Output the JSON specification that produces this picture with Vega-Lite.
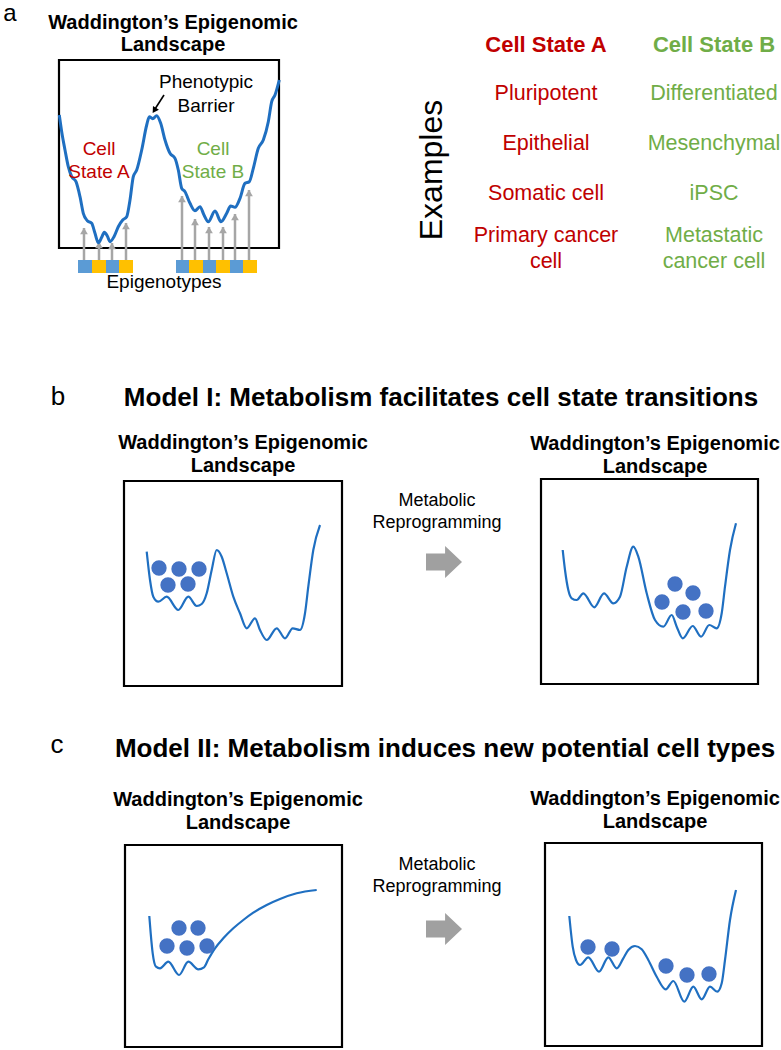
{
  "$schema": "https://vega.github.io/schema/vega-lite/v6.json",
  "width": 781,
  "height": 1050,
  "autosize": {"type": "fit", "contains": "padding"},
  "padding": 0,
  "background": "white",
  "config": {"view": {"stroke": null}, "font": "Liberation Sans"},
  "datasets": {
    "boxes": [
      {"x": 59, "x2": 279, "y": 60, "y2": 248},
      {"x": 124, "x2": 342, "y": 481, "y2": 686},
      {"x": 541, "x2": 758, "y": 479, "y2": 684},
      {"x": 125, "x2": 342, "y": 845, "y2": 1047},
      {"x": 545, "x2": 762, "y": 843, "y2": 1046}
    ],
    "squares": [
      {"x": 78, "x2": 92, "y": 260, "y2": 273, "c": "blue"},
      {"x": 92, "x2": 106, "y": 260, "y2": 273, "c": "yellow"},
      {"x": 106, "x2": 119, "y": 260, "y2": 273, "c": "blue"},
      {"x": 119, "x2": 133, "y": 260, "y2": 273, "c": "yellow"},
      {"x": 176, "x2": 189, "y": 260, "y2": 273, "c": "blue"},
      {"x": 189, "x2": 203, "y": 260, "y2": 273, "c": "yellow"},
      {"x": 203, "x2": 216, "y": 260, "y2": 273, "c": "blue"},
      {"x": 216, "x2": 230, "y": 260, "y2": 273, "c": "yellow"},
      {"x": 230, "x2": 243, "y": 260, "y2": 273, "c": "blue"},
      {"x": 243, "x2": 257, "y": 260, "y2": 273, "c": "yellow"}
    ],
    "grayArrows": [
      {"x": 84, "base": 260, "tip": 228},
      {"x": 99, "base": 260, "tip": 242},
      {"x": 112, "base": 260, "tip": 243},
      {"x": 126, "base": 260, "tip": 223},
      {"x": 182, "base": 260, "tip": 196},
      {"x": 195, "base": 260, "tip": 219},
      {"x": 209, "base": 260, "tip": 227},
      {"x": 223, "base": 260, "tip": 227},
      {"x": 235, "base": 260, "tip": 214},
      {"x": 249, "base": 260, "tip": 190}
    ],
    "curveA": [
      {"x": 59.3, "y": 115}, {"x": 61.7, "y": 131.7}, {"x": 65, "y": 150}, {"x": 68.3, "y": 166.7},
      {"x": 71.7, "y": 176.7}, {"x": 76, "y": 181.7}, {"x": 80, "y": 196.7}, {"x": 83.3, "y": 213.3},
      {"x": 87.3, "y": 220.7}, {"x": 91.7, "y": 223.3}, {"x": 95, "y": 233.3}, {"x": 98.3, "y": 242.7},
      {"x": 101.7, "y": 237.3}, {"x": 104.3, "y": 232.3}, {"x": 107.3, "y": 236}, {"x": 110, "y": 241.7},
      {"x": 114, "y": 236.7}, {"x": 118.3, "y": 226.7}, {"x": 122.7, "y": 220}, {"x": 126.7, "y": 216.7},
      {"x": 130, "y": 200}, {"x": 133.3, "y": 176.7}, {"x": 136.7, "y": 170}, {"x": 141.7, "y": 150},
      {"x": 146.7, "y": 125}, {"x": 149.3, "y": 116.7}, {"x": 152.7, "y": 118.7}, {"x": 156.7, "y": 115.7},
      {"x": 160.7, "y": 123.3}, {"x": 165, "y": 140}, {"x": 170, "y": 153.3}, {"x": 175, "y": 158.3},
      {"x": 178.3, "y": 170}, {"x": 181.7, "y": 188.3}, {"x": 185, "y": 191.7}, {"x": 190, "y": 203.3},
      {"x": 195, "y": 210.7}, {"x": 200, "y": 206.7}, {"x": 204, "y": 215}, {"x": 208.3, "y": 221.7},
      {"x": 215, "y": 211}, {"x": 221, "y": 221.7}, {"x": 226.7, "y": 213.3}, {"x": 230.7, "y": 206},
      {"x": 235, "y": 207.3}, {"x": 240, "y": 198.3}, {"x": 245, "y": 183.3}, {"x": 249.3, "y": 181.7},
      {"x": 253.3, "y": 168.3}, {"x": 258.3, "y": 148.3}, {"x": 263.3, "y": 140}, {"x": 268.3, "y": 121.7},
      {"x": 271.7, "y": 101.7}, {"x": 275, "y": 95}, {"x": 279.3, "y": 80}
    ],
    "curves": [
      {"g": "bL", "x": 146.7, "y": 551.7}, {"g": "bL", "x": 150, "y": 580}, {"g": "bL", "x": 153.3, "y": 596.7},
      {"g": "bL", "x": 158.3, "y": 601.7}, {"g": "bL", "x": 166.7, "y": 596.7}, {"g": "bL", "x": 178.3, "y": 610},
      {"g": "bL", "x": 188.3, "y": 596.7}, {"g": "bL", "x": 196.7, "y": 606}, {"g": "bL", "x": 201.7, "y": 604},
      {"g": "bL", "x": 206.7, "y": 593.3}, {"g": "bL", "x": 211.7, "y": 570}, {"g": "bL", "x": 216.7, "y": 550},
      {"g": "bL", "x": 221.7, "y": 556.7}, {"g": "bL", "x": 226.7, "y": 573.3}, {"g": "bL", "x": 233.3, "y": 596.7},
      {"g": "bL", "x": 240, "y": 613.3}, {"g": "bL", "x": 246.7, "y": 628.3}, {"g": "bL", "x": 255, "y": 618.3},
      {"g": "bL", "x": 260, "y": 630}, {"g": "bL", "x": 266.7, "y": 640}, {"g": "bL", "x": 276.7, "y": 628.3},
      {"g": "bL", "x": 285, "y": 638.3}, {"g": "bL", "x": 292.7, "y": 628.3}, {"g": "bL", "x": 300, "y": 630},
      {"g": "bL", "x": 305, "y": 613.3}, {"g": "bL", "x": 308.3, "y": 586.7}, {"g": "bL", "x": 313.3, "y": 550},
      {"g": "bL", "x": 320, "y": 525},

      {"g": "bR", "x": 562.7, "y": 550}, {"g": "bR", "x": 565, "y": 570}, {"g": "bR", "x": 568.3, "y": 590},
      {"g": "bR", "x": 571.7, "y": 598.3}, {"g": "bR", "x": 576.7, "y": 600}, {"g": "bR", "x": 583.3, "y": 593.3},
      {"g": "bR", "x": 594.3, "y": 607.3}, {"g": "bR", "x": 604, "y": 593.3}, {"g": "bR", "x": 613.3, "y": 603.3},
      {"g": "bR", "x": 620, "y": 596.7}, {"g": "bR", "x": 626.7, "y": 566.7}, {"g": "bR", "x": 633.3, "y": 546.7},
      {"g": "bR", "x": 638.3, "y": 556.7}, {"g": "bR", "x": 646.7, "y": 593.3}, {"g": "bR", "x": 655, "y": 620},
      {"g": "bR", "x": 663.3, "y": 626.7}, {"g": "bR", "x": 671.7, "y": 615}, {"g": "bR", "x": 676.7, "y": 626.7},
      {"g": "bR", "x": 682.7, "y": 638.3}, {"g": "bR", "x": 692.7, "y": 626}, {"g": "bR", "x": 701, "y": 636.7},
      {"g": "bR", "x": 709.3, "y": 625}, {"g": "bR", "x": 716.7, "y": 628.3}, {"g": "bR", "x": 721.7, "y": 613.3},
      {"g": "bR", "x": 725, "y": 586.7}, {"g": "bR", "x": 730, "y": 550}, {"g": "bR", "x": 736, "y": 523.3},

      {"g": "cL", "x": 149.3, "y": 916}, {"g": "cL", "x": 150.7, "y": 933.3}, {"g": "cL", "x": 152.7, "y": 953.3},
      {"g": "cL", "x": 156, "y": 966.7}, {"g": "cL", "x": 160, "y": 968.3}, {"g": "cL", "x": 168.3, "y": 961.7},
      {"g": "cL", "x": 179, "y": 975}, {"g": "cL", "x": 188.3, "y": 961.7}, {"g": "cL", "x": 198.3, "y": 969.3},
      {"g": "cL", "x": 204, "y": 967.3}, {"g": "cL", "x": 208.3, "y": 959.3}, {"g": "cL", "x": 215, "y": 948.3},
      {"g": "cL", "x": 223.3, "y": 938.3}, {"g": "cL", "x": 233.3, "y": 928.3}, {"g": "cL", "x": 243.3, "y": 920},
      {"g": "cL", "x": 253.3, "y": 912.7}, {"g": "cL", "x": 266.7, "y": 905}, {"g": "cL", "x": 280, "y": 899},
      {"g": "cL", "x": 296.7, "y": 893.3}, {"g": "cL", "x": 316.7, "y": 890},

      {"g": "cR", "x": 569.3, "y": 916}, {"g": "cR", "x": 570.7, "y": 930}, {"g": "cR", "x": 572.7, "y": 946.7},
      {"g": "cR", "x": 576, "y": 960}, {"g": "cR", "x": 580, "y": 965}, {"g": "cR", "x": 588.3, "y": 957.3},
      {"g": "cR", "x": 599, "y": 971.7}, {"g": "cR", "x": 608.3, "y": 957.3}, {"g": "cR", "x": 616.7, "y": 968.3},
      {"g": "cR", "x": 623.3, "y": 958.3}, {"g": "cR", "x": 628.3, "y": 950}, {"g": "cR", "x": 635, "y": 946},
      {"g": "cR", "x": 641.7, "y": 949.3}, {"g": "cR", "x": 648.3, "y": 960}, {"g": "cR", "x": 656.7, "y": 976.7},
      {"g": "cR", "x": 665.7, "y": 989.3}, {"g": "cR", "x": 673.3, "y": 981}, {"g": "cR", "x": 684.3, "y": 1001.7},
      {"g": "cR", "x": 693.3, "y": 986.7}, {"g": "cR", "x": 701.7, "y": 999.3}, {"g": "cR", "x": 710, "y": 986.7},
      {"g": "cR", "x": 717.3, "y": 991.7}, {"g": "cR", "x": 721.7, "y": 983.3}, {"g": "cR", "x": 725, "y": 960},
      {"g": "cR", "x": 730, "y": 920}, {"g": "cR", "x": 736, "y": 890}
    ],
    "balls": [
      {"x": 159, "y": 568}, {"x": 179, "y": 569}, {"x": 199, "y": 569}, {"x": 168, "y": 585}, {"x": 188, "y": 584},
      {"x": 675, "y": 584}, {"x": 693, "y": 593}, {"x": 662, "y": 602}, {"x": 683, "y": 612}, {"x": 706, "y": 611},
      {"x": 179, "y": 928}, {"x": 198, "y": 928}, {"x": 167, "y": 946}, {"x": 187, "y": 948}, {"x": 207, "y": 946},
      {"x": 588, "y": 947}, {"x": 612, "y": 949}, {"x": 666, "y": 966}, {"x": 687, "y": 975}, {"x": 709, "y": 974}
    ],
    "blackArrow": [{"x": 164, "y": 95, "x2": 155, "y2": 109}],
    "blackHead": [{"x": 154.3, "y": 110.5}],
    "bigArrows": [{"x": 444, "y": 562}, {"x": 444, "y": 929}],
    "panelLetters": [
      {"x": 58, "y": 405, "t": "b"},
      {"x": 57, "y": 753, "t": "c"}
    ],
    "panelA": [{"x": 10, "y": 2, "t": "a"}],
    "landscapeTitles": [
      {"x": 173, "y": 29, "t": "Waddington’s Epigenomic"}, {"x": 173, "y": 51, "t": "Landscape"},
      {"x": 243, "y": 449, "t": "Waddington’s Epigenomic"}, {"x": 243, "y": 472, "t": "Landscape"},
      {"x": 655, "y": 450, "t": "Waddington’s Epigenomic"}, {"x": 655, "y": 473, "t": "Landscape"},
      {"x": 238, "y": 806, "t": "Waddington’s Epigenomic"}, {"x": 238, "y": 829, "t": "Landscape"},
      {"x": 655, "y": 805, "t": "Waddington’s Epigenomic"}, {"x": 655, "y": 828, "t": "Landscape"}
    ],
    "modelTitles": [
      {"x": 441, "y": 406, "t": "Model I: Metabolism facilitates cell state transitions"},
      {"x": 445, "y": 757, "t": "Model II: Metabolism induces new potential cell types"}
    ],
    "reprog": [
      {"x": 437, "y": 506, "t": "Metabolic"}, {"x": 437, "y": 528, "t": "Reprogramming"},
      {"x": 437, "y": 870, "t": "Metabolic"}, {"x": 437, "y": 892, "t": "Reprogramming"}
    ],
    "labelsA": [
      {"x": 206, "y": 88, "t": "Phenotypic", "k": "k"},
      {"x": 206, "y": 112, "t": "Barrier", "k": "k"},
      {"x": 164, "y": 288, "t": "Epigenotypes", "k": "k"},
      {"x": 99, "y": 155, "t": "Cell", "k": "A"},
      {"x": 99, "y": 178, "t": "State A", "k": "A"},
      {"x": 213, "y": 155, "t": "Cell", "k": "B"},
      {"x": 213, "y": 178, "t": "State B", "k": "B"}
    ],
    "tableHeads": [
      {"x": 546, "y": 52, "t": "Cell State A", "k": "A"},
      {"x": 714, "y": 52, "t": "Cell State B", "k": "B"}
    ],
    "tableItems": [
      {"x": 546, "y": 100, "t": "Pluripotent", "k": "A"},
      {"x": 546, "y": 150, "t": "Epithelial", "k": "A"},
      {"x": 546, "y": 200, "t": "Somatic cell", "k": "A"},
      {"x": 546, "y": 242, "t": "Primary cancer", "k": "A"},
      {"x": 546, "y": 268, "t": "cell", "k": "A"},
      {"x": 714, "y": 100, "t": "Differentiated", "k": "B"},
      {"x": 714, "y": 150, "t": "Mesenchymal", "k": "B"},
      {"x": 714, "y": 200, "t": "iPSC", "k": "B"},
      {"x": 714, "y": 242, "t": "Metastatic", "k": "B"},
      {"x": 714, "y": 268, "t": "cancer cell", "k": "B"}
    ],
    "examples": [{"x": 432, "y": 170, "t": "Examples"}]
  },
  "layer": [
    {
      "data": {"name": "boxes"},
      "mark": {"type": "rect", "fillOpacity": 0, "stroke": "#000000", "strokeWidth": 2.2},
      "encoding": {
        "x": {"field": "x", "type": "quantitative", "scale": {"domain": [0, 781], "nice": false, "zero": false}, "axis": null},
        "x2": {"field": "x2"},
        "y": {"field": "y", "type": "quantitative", "scale": {"domain": [0, 1050], "nice": false, "zero": false, "reverse": true}, "axis": null},
        "y2": {"field": "y2"}
      }
    },
    {
      "data": {"name": "squares"},
      "mark": {"type": "rect"},
      "encoding": {
        "x": {"field": "x", "type": "quantitative"},
        "x2": {"field": "x2"},
        "y": {"field": "y", "type": "quantitative"},
        "y2": {"field": "y2"},
        "color": {"field": "c", "type": "nominal", "scale": {"domain": ["blue", "yellow", "A", "B", "k"], "range": ["#5B9BD5", "#FFC000", "#C00000", "#70AD47", "#000000"]}, "legend": null}
      }
    },
    {
      "data": {"name": "grayArrows"},
      "mark": {"type": "rule", "color": "#A6A6A6", "strokeWidth": 2.5},
      "encoding": {
        "x": {"field": "x", "type": "quantitative"},
        "y": {"field": "base", "type": "quantitative"},
        "y2": {"field": "tip"}
      }
    },
    {
      "data": {"name": "grayArrows"},
      "mark": {"type": "point", "shape": "triangle-up", "filled": true, "color": "#A6A6A6", "opacity": 1, "size": 60, "yOffset": 3},
      "encoding": {
        "x": {"field": "x", "type": "quantitative"},
        "y": {"field": "tip", "type": "quantitative"}
      }
    },
    {
      "data": {"name": "curveA"},
      "mark": {"type": "line", "color": "#1F6FC1", "strokeWidth": 3, "interpolate": "monotone"},
      "encoding": {
        "x": {"field": "x", "type": "quantitative"},
        "y": {"field": "y", "type": "quantitative"}
      }
    },
    {
      "data": {"name": "curves"},
      "mark": {"type": "line", "color": "#1F6FC1", "strokeWidth": 2.2, "interpolate": "monotone"},
      "encoding": {
        "x": {"field": "x", "type": "quantitative"},
        "y": {"field": "y", "type": "quantitative"},
        "detail": {"field": "g", "type": "nominal"}
      }
    },
    {
      "data": {"name": "balls"},
      "mark": {"type": "point", "shape": "circle", "filled": true, "color": "#4472C4", "opacity": 1, "size": 235},
      "encoding": {
        "x": {"field": "x", "type": "quantitative"},
        "y": {"field": "y", "type": "quantitative"}
      }
    },
    {
      "data": {"name": "blackArrow"},
      "mark": {"type": "rule", "color": "#000000", "strokeWidth": 1.6},
      "encoding": {
        "x": {"field": "x", "type": "quantitative"},
        "y": {"field": "y", "type": "quantitative"},
        "x2": {"field": "x2"},
        "y2": {"field": "y2"}
      }
    },
    {
      "data": {"name": "blackHead"},
      "mark": {"type": "point", "shape": "triangle-up", "filled": true, "color": "#000000", "opacity": 1, "size": 50, "angle": 213},
      "encoding": {
        "x": {"field": "x", "type": "quantitative"},
        "y": {"field": "y", "type": "quantitative"}
      }
    },
    {
      "data": {"name": "bigArrows"},
      "mark": {"type": "point", "shape": "M -1 -0.47 L 0.06 -0.47 L 0.06 -0.89 L 1 0 L 0.06 0.89 L 0.06 0.47 L -1 0.47 Z", "filled": true, "color": "#A0A0A0", "opacity": 1, "size": 1296},
      "encoding": {
        "x": {"field": "x", "type": "quantitative"},
        "y": {"field": "y", "type": "quantitative"}
      }
    },
    {
      "data": {"name": "panelLetters"},
      "mark": {"type": "text", "fontSize": 26, "align": "center", "baseline": "alphabetic", "color": "#000000"},
      "encoding": {
        "x": {"field": "x", "type": "quantitative"},
        "y": {"field": "y", "type": "quantitative"},
        "text": {"field": "t"}
      }
    },
    {
      "data": {"name": "panelA"},
      "mark": {"type": "text", "fontSize": 24, "align": "center", "baseline": "top", "color": "#000000"},
      "encoding": {
        "x": {"field": "x", "type": "quantitative"},
        "y": {"field": "y", "type": "quantitative"},
        "text": {"field": "t"}
      }
    },
    {
      "data": {"name": "landscapeTitles"},
      "mark": {"type": "text", "fontSize": 20, "fontWeight": "bold", "align": "center", "baseline": "alphabetic", "color": "#000000"},
      "encoding": {
        "x": {"field": "x", "type": "quantitative"},
        "y": {"field": "y", "type": "quantitative"},
        "text": {"field": "t"}
      }
    },
    {
      "data": {"name": "modelTitles"},
      "mark": {"type": "text", "fontSize": 26, "fontWeight": "bold", "align": "center", "baseline": "alphabetic", "color": "#000000"},
      "encoding": {
        "x": {"field": "x", "type": "quantitative"},
        "y": {"field": "y", "type": "quantitative"},
        "text": {"field": "t"}
      }
    },
    {
      "data": {"name": "reprog"},
      "mark": {"type": "text", "fontSize": 18, "align": "center", "baseline": "alphabetic", "color": "#000000"},
      "encoding": {
        "x": {"field": "x", "type": "quantitative"},
        "y": {"field": "y", "type": "quantitative"},
        "text": {"field": "t"}
      }
    },
    {
      "data": {"name": "labelsA"},
      "mark": {"type": "text", "fontSize": 19, "align": "center", "baseline": "alphabetic"},
      "encoding": {
        "x": {"field": "x", "type": "quantitative"},
        "y": {"field": "y", "type": "quantitative"},
        "text": {"field": "t"},
        "color": {"field": "k", "type": "nominal", "legend": null}
      }
    },
    {
      "data": {"name": "tableHeads"},
      "mark": {"type": "text", "fontSize": 22, "fontWeight": "bold", "align": "center", "baseline": "alphabetic"},
      "encoding": {
        "x": {"field": "x", "type": "quantitative"},
        "y": {"field": "y", "type": "quantitative"},
        "text": {"field": "t"},
        "color": {"field": "k", "type": "nominal", "legend": null}
      }
    },
    {
      "data": {"name": "tableItems"},
      "mark": {"type": "text", "fontSize": 21.5, "align": "center", "baseline": "alphabetic"},
      "encoding": {
        "x": {"field": "x", "type": "quantitative"},
        "y": {"field": "y", "type": "quantitative"},
        "text": {"field": "t"},
        "color": {"field": "k", "type": "nominal", "legend": null}
      }
    },
    {
      "data": {"name": "examples"},
      "mark": {"type": "text", "fontSize": 32, "align": "center", "baseline": "middle", "angle": 270, "color": "#000000"},
      "encoding": {
        "x": {"field": "x", "type": "quantitative"},
        "y": {"field": "y", "type": "quantitative"},
        "text": {"field": "t"}
      }
    }
  ]
}
